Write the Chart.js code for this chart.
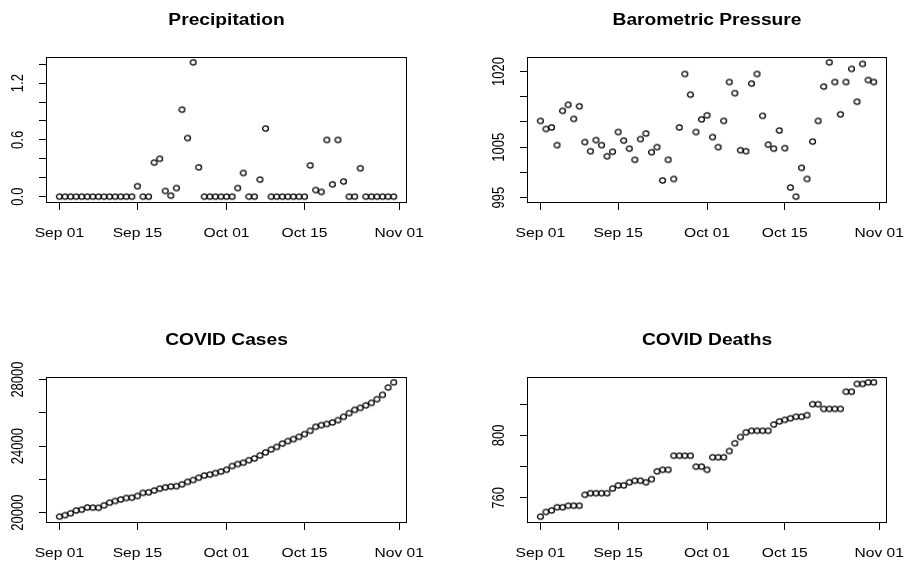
<!DOCTYPE html>
<html>
<head>
<meta charset="utf-8">
<script src="https://cdn.jsdelivr.net/npm/chart.js@4.4.1/dist/chart.umd.min.js"></script>
<style>
  html, body { margin: 0; padding: 0; background: #fff; }
  #page { position: relative; width: 905px; height: 563px; background: #fff; }
  .panel { position: absolute; }
</style>
</head>
<body>
<div id="page">
  <div class="panel" style="left:0;top:0"><canvas id="precip" width="452" height="281"></canvas></div>
  <div class="panel" style="left:452px;top:0"><canvas id="pressure" width="453" height="281"></canvas></div>
  <div class="panel" style="left:0;top:282px"><canvas id="cases" width="452" height="281"></canvas></div>
  <div class="panel" style="left:452px;top:282px"><canvas id="deaths" width="453" height="281"></canvas></div>
</div>
<script>
// daily readings, Sep 01 .. Oct 31
const precipitation = [
  0, 0, 0, 0, 0, 0, 0, 0, 0, 0, 0, 0, 0, 0,
  0.11, 0, 0, 0.36, 0.40, 0.06, 0.01, 0.09, 0.92, 0.62, 1.42, 0.31,
  0, 0, 0, 0, 0, 0,
  0.09, 0.25, 0, 0, 0.18, 0.72,
  0, 0, 0, 0, 0, 0, 0,
  0.33, 0.07, 0.05, 0.60, 0.13, 0.60, 0.16, 0, 0, 0.30,
  0, 0, 0, 0, 0, 0
];
const pressure = [
  1010.2, 1008.6, 1008.9, 1005.4, 1012.2, 1013.4, 1010.6, 1013.1, 1006.0, 1004.2,
  1006.4, 1005.4, 1003.2, 1004.1, 1008.0, 1006.3, 1004.7, 1002.5, 1006.6, 1007.7,
  1004.0, 1005.0, 998.4, 1002.5, 998.7, 1008.9, 1019.5, 1015.4, 1008.0, 1010.5,
  1011.3, 1007.0, 1005.0, 1010.2, 1017.9, 1015.7, 1004.4, 1004.2, 1017.6, 1019.5,
  1011.2, 1005.5, 1004.7, 1008.3, 1004.8, 997.0, 995.2, 1000.9, 998.7, 1006.1,
  1010.2, 1017.0, 1021.8, 1017.9, 1011.5, 1017.9, 1020.5, 1014.0, 1021.5, 1018.3,
  1017.9
];
const covidCases = [
  19760, 19850, 19960, 20130, 20180, 20310, 20300, 20290, 20440, 20600,
  20700, 20790, 20880, 20900, 21000, 21190, 21220, 21330, 21440, 21520,
  21570, 21590, 21700, 21850, 21960, 22100, 22230, 22290, 22380, 22470,
  22580, 22800, 22920, 23000, 23150, 23260, 23440, 23620, 23800, 23950,
  24150, 24300, 24420, 24560, 24720, 24920, 25160, 25260, 25330, 25420,
  25560, 25760, 25980, 26180, 26300, 26450, 26600, 26820, 27080, 27520,
  27830
];
const covidDeaths = [
  748, 751, 752, 754, 754, 755, 755, 755, 762, 763,
  763, 763, 763, 766, 768, 768, 770, 771, 771, 770,
  772, 777, 778, 778, 787, 787, 787, 787, 780, 780,
  778, 786, 786, 786, 790, 795, 799, 802, 803, 803,
  803, 803, 807, 809, 810, 811, 812, 812, 813, 820,
  820, 817, 817, 817, 817, 828, 828, 833, 833, 834,
  834
];

// date axis: day number counted from Sep 01
const dateTicks = [0, 14, 30, 44, 61];
const dateLabels = ["Sep 01", "Sep 15", "Oct 01", "Oct 15", "Nov 01"];

const precipTicks = [0, 0.2, 0.4, 0.6, 0.8, 1.0, 1.2, 1.4];
const precipLabels = ["0.0", "", "", "0.6", "", "", "1.2", ""];
const pressureTicks = [995, 1000, 1005, 1010, 1015, 1020];
const pressureLabels = ["995", "", "1005", "", "", "1020"];
const casesTicks = [20000, 22000, 24000, 26000, 28000];
const casesLabels = ["20000", "", "24000", "", "28000"];
const deathsTicks = [760, 780, 800, 820];
const deathsLabels = ["760", "", "800", ""];

const FONT = '"Liberation Sans", Arial, sans-serif';
const SX = 1.2; // text is a little wider than tall

// R-style extent: data range padded 4% each side
function padRange(vals) {
  const lo = Math.min(...vals), hi = Math.max(...vals);
  const d = (hi - lo) * 0.04;
  return [lo - d, hi + d];
}

// open circle marker (pch = 1)
function ring(w, h) {
  const c = document.createElement('canvas');
  c.width = 9;
  c.height = 9;
  const g = c.getContext('2d');
  g.strokeStyle = '#000';
  g.lineWidth = 1.3;
  g.beginPath();
  g.ellipse(4.5, 4.5, w / 2 - 0.6, h / 2 - 0.6, 0, 0, Math.PI * 2);
  g.stroke();
  return c;
}
const dot = ring(7, 6.4);

function wideText(ctx, text, x, y) {
  ctx.save();
  ctx.translate(x, y);
  ctx.scale(SX, 1);
  ctx.fillText(text, 0, 0);
  ctx.restore();
}

// box, axis labels and title drawn the way base R graphics does
const rFrame = {
  id: 'rFrame',
  afterDraw(chart, args, opts) {
    const { ctx, chartArea: a, scales: { x, y } } = chart;
    ctx.save();
    ctx.strokeStyle = '#000';
    ctx.lineWidth = 1;
    ctx.strokeRect(Math.round(a.left) + 0.5, Math.round(a.top) + 0.5,
      Math.round(a.right - a.left) - 1, Math.round(a.bottom - a.top));
    ctx.fillStyle = '#000';
    ctx.font = '13px ' + FONT;
    ctx.textAlign = 'center';
    ctx.textBaseline = 'alphabetic';
    x.ticks.forEach((t, i) => {
      wideText(ctx, dateLabels[i], x.getPixelForValue(t.value), a.bottom + 34.5);
    });
    y.ticks.forEach((t, i) => {
      const lab = opts.yLabels[i];
      if (!lab) return;
      ctx.save();
      ctx.translate(a.left - 23.5, y.getPixelForValue(t.value));
      ctx.rotate(-Math.PI / 2);
      ctx.scale(1, SX);
      ctx.fillText(lab, 0, 0);
      ctx.restore();
    });
    ctx.font = 'bold 16px ' + FONT;
    wideText(ctx, opts.title, (a.left + a.right) / 2, a.top - 32);
    ctx.restore();
  }
};

function panel(id, title, values, yTicks, yLabels, box) {
  const canvas = document.getElementById(id);
  const W = canvas.width, H = canvas.height;
  const [xmin, xmax] = padRange([0, values.length - 1]);
  const [ymin, ymax] = padRange(values);
  return new Chart(canvas, {
    type: 'scatter',
    data: {
      datasets: [{
        data: values.map((v, i) => ({ x: i, y: v })),
        pointStyle: dot,
        pointRadius: 3,
        pointHoverRadius: 3,
        showLine: false
      }]
    },
    options: {
      responsive: false,
      animation: false,
      events: [],
      layout: {
        padding: { left: 0, top: box.top, right: W - box.right, bottom: 0 }
      },
      plugins: {
        legend: { display: false },
        tooltip: { enabled: false },
        rFrame: { title: title, yLabels: yLabels }
      },
      scales: {
        x: {
          type: 'linear',
          min: xmin,
          max: xmax,
          afterBuildTicks: s => { s.ticks = dateTicks.map(v => ({ value: v })); },
          afterFit: s => { s.height = H - box.bottom; },
          ticks: { display: false },
          border: { display: false },
          grid: { drawOnChartArea: false, color: '#000', lineWidth: 1, tickLength: 8 }
        },
        y: {
          type: 'linear',
          min: ymin,
          max: ymax,
          afterBuildTicks: s => { s.ticks = yTicks.map(v => ({ value: v })); },
          afterFit: s => { s.width = box.left; },
          ticks: { display: false },
          border: { display: false },
          grid: { drawOnChartArea: false, color: '#000', lineWidth: 1, tickLength: 7 }
        }
      }
    },
    plugins: [rFrame]
  });
}

panel('precip', 'Precipitation', precipitation, precipTicks, precipLabels,
  { left: 46, top: 57, right: 407, bottom: 202 });
panel('pressure', 'Barometric Pressure', pressure, pressureTicks, pressureLabels,
  { left: 75, top: 57, right: 435, bottom: 202 });
panel('cases', 'COVID Cases', covidCases, casesTicks, casesLabels,
  { left: 46, top: 95, right: 407, bottom: 240 });
panel('deaths', 'COVID Deaths', covidDeaths, deathsTicks, deathsLabels,
  { left: 75, top: 95, right: 435, bottom: 240 });
</script>
</body>
</html>
